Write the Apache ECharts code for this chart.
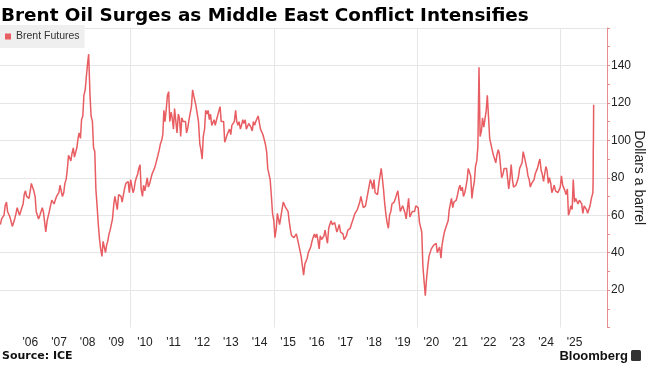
<!DOCTYPE html>
<html><head><meta charset="utf-8">
<script src="https://cdn.jsdelivr.net/npm/echarts@6/dist/echarts.min.js"></script>
<style>html,body{margin:0;padding:0;background:#fff}#c{width:650px;height:365px}</style>
</head><body><div id="c"></div>
<script>
const chartTitle = 'Brent Oil Surges as Middle East Conflict Intensifies';
const seriesName = 'Brent Futures';
const yAxisName = 'Dollars a barrel';
const sourceText = 'Source: ICE';
const brandText = 'Bloomberg';
const yearTicks = [2006,2007,2008,2009,2010,2011,2012,2013,2014,2015,2016,2017,2018,2019,2020,2021,2022,2023,2024,2025];
const gridYears = [2010, 2015, 2020, 2025];

// Brent futures, approx. closes on the 1st and 15th of each month (USD/bbl)
const p2005 = [55,58,57,60,65,67,62,62,59,58,54,55,58]; // from Jun 15
const p2006 = [61,64,65,60,62,62,66,71,73,70,71,69,73,77,78,73,70,62,62,58,60,59,64,62];
const p2007 = [61,51,57,58,62,62,68,68,66,68,70,71,72,76,77,70,72,77,79,84,92,92,89,93];
const p2008 = [96,91,91,96,101,104,101,111,113,124,127,134,141,146,124,113,110,96,94,74,64,55,47,42];
const p2009 = [38,46,45,40,44,46,50,52,53,58,66,70,70,63,71,72,70,67,68,74,77,78,78,72];
const p2010 = [79,80,72,74,78,80,82,85,87,74,70,76,73,76,80,75,77,78,82,83,85,87,87,92];
const p2011 = [95,98,100,103,116,110,117,124,126,110,115,112,106,117,117,104,114,112,102,112,110,111,110,104];
const p2012 = [107,111,111,118,127,124,123,118,119,110,98,95,90,102,106,116,114,116,111,114,108,108,111,108];
const p2013 = [111,111,116,118,110,109,110,99,101,103,102,106,103,108,108,110,116,110,108,110,106,108,111,109];
const p2014 = [111,106,106,109,109,107,105,110,108,110,110,113,112,106,105,103,102,98,94,85,85,79,70,61];
const p2015 = [57,48,53,61,62,55,56,63,67,66,64,63,62,57,52,49,49,48,48,50,49,44,44,38];
const p2016 = [37,28,34,33,37,40,39,43,46,48,50,48,50,47,42,49,47,46,49,52,48,45,53,55];
const p2017 = [57,55,56,56,56,51,53,55,51,52,50,47,48,49,52,51,53,55,57,58,61,62,63,64];
const p2018 = [67,70,69,64,64,65,69,72,73,79,77,74,79,72,73,71,77,78,85,80,73,66,60,56];
const p2019 = [53,60,62,66,65,67,69,71,73,72,62,62,65,66,61,58,59,69,59,59,62,63,62,65];
const p2020 = [66,64,56,57,51,33,24,17,26,32,38,39,42,43,44,45,45,40,41,43,37,44,48,51];
const p2021 = [52,55,57,63,64,69,64,67,67,68,71,74,76,73,75,70,72,75,79,85,84,81,69,74];
const p2022 = [78,86,89,97,139,102,105,112,107,111,116,124,112,101,100,95,92,91,88,92,95,93,86,80];
const p2023 = [82,85,84,85,84,74,80,87,79,75,74,76,75,80,85,85,88,94,91,90,85,81,79,75];
const p2024 = [77,78,79,82,83,85,88,90,84,82,78,82,86,84,77,80,77,72,74,76,73,72,72,73];
const p2025 = [75,81,76,75,73,71,74,60,62,65,63,79,67,69,70,66,68,67,66,61,65,64,63,61];
const p2026 = [61,65,69,70];
// final daily moves
const spikeDates = ['2026-02-20','2026-02-23','2026-02-24','2026-02-25','2026-02-26','2026-02-27','2026-03-02'];
const spikeValues = [72,78,85,94,97,100,119];

function decYear(y, m, d) {
  const t = Date.UTC(y, m - 1, d), a = Date.UTC(y, 0, 1), b = Date.UTC(y + 1, 0, 1);
  return y + (t - a) / (b - a);
}
const yearBlocks = [[2005,p2005,11],[2006,p2006,0],[2007,p2007,0],[2008,p2008,0],[2009,p2009,0],[2010,p2010,0],
  [2011,p2011,0],[2012,p2012,0],[2013,p2013,0],[2014,p2014,0],[2015,p2015,0],[2016,p2016,0],[2017,p2017,0],
  [2018,p2018,0],[2019,p2019,0],[2020,p2020,0],[2021,p2021,0],[2022,p2022,0],[2023,p2023,0],[2024,p2024,0],
  [2025,p2025,0],[2026,p2026,0]];
const data = [];
yearBlocks.forEach(([y, arr, off]) => {
  arr.forEach((v, i) => {
    const slot = i + off;
    data.push([decYear(y, Math.floor(slot / 2) + 1, slot % 2 ? 15 : 1), v]);
  });
});
spikeDates.forEach((s, i) => {
  const [y, m, d] = s.split('-').map(Number);
  data.push([decYear(y, m, d), spikeValues[i]]);
});

const font = '"Liberation Sans", Arial, sans-serif';
const chart = echarts.init(document.getElementById('c'));
chart.setOption({
  animation: false,
  textStyle: { fontFamily: font },
  title: [
    { text: chartTitle, left: 1, top: 7, padding: 0,
      textStyle: { fontSize: 18.4, fontWeight: 'bold', color: '#000', fontFamily: '"DejaVu Sans", sans-serif' } },
    { text: sourceText, left: 2, bottom: 3, padding: 0,
      textStyle: { fontSize: 11, fontWeight: 'bold', color: '#111', fontFamily: '"DejaVu Sans", sans-serif' } },
    { text: brandText, right: 22, bottom: 2, padding: 0,
      textStyle: { fontSize: 13, fontWeight: 'bold', color: '#111', fontFamily: font } }
  ],
  graphic: [
    { type: 'rect', right: 9, bottom: 4, shape: { width: 10, height: 11, r: 1.5 }, style: { fill: '#333' } }
  ],
  legend: {
    left: 0, top: 25, padding: [6, 5, 6, 5], backgroundColor: '#efefef',
    icon: 'rect', itemWidth: 6, itemHeight: 6,
    textStyle: { fontSize: 10.5, color: '#333', fontFamily: font },
    data: [seriesName]
  },
  grid: { left: 0, right: 43, top: 28, bottom: 37.5, containLabel: false, outerBoundsMode: 'none' },
  xAxis: {
    type: 'value', min: 2005.44, max: 2026.63,
    axisLine: { show: false },
    axisTick: { show: false, customValues: gridYears },
    splitLine: { show: true, lineStyle: { color: '#e6e6e6', width: 1 } },
    axisLabel: { customValues: yearTicks.map(y => y + 0.5), formatter: v => "'" + String(Math.floor(v)).slice(2),
      color: '#222', fontSize: 12, margin: 9 }
  },
  yAxis: {
    type: 'value', position: 'right', min: 0, max: 160, interval: 20,
    name: yAxisName, nameLocation: 'middle', nameRotate: -90, nameGap: 25, nameMoveOverlap: false,
    nameTextStyle: { fontSize: 14, color: '#222' },
    axisLine: { show: true, lineStyle: { color: '#e98c92', width: 1 } },
    axisTick: { show: true, length: 3, lineStyle: { color: '#e98c92' } },
    minorTick: { show: true, splitNumber: 2, length: 3, lineStyle: { color: '#e98c92' } },
    splitLine: { show: true, showMinLine: false, lineStyle: { color: '#e6e6e6', width: 1 } },
    axisLabel: { margin: 4, color: '#222', fontSize: 12, formatter: v => (v === 0 || v === 160) ? '' : String(v) }
  },
  series: [{
    name: seriesName, type: 'line', data: data, showSymbol: false, symbol: 'none',
    lineStyle: { color: '#e85d62', width: 1.5 }, itemStyle: { color: '#e85d62' }
  }]
});
</script></body></html>
